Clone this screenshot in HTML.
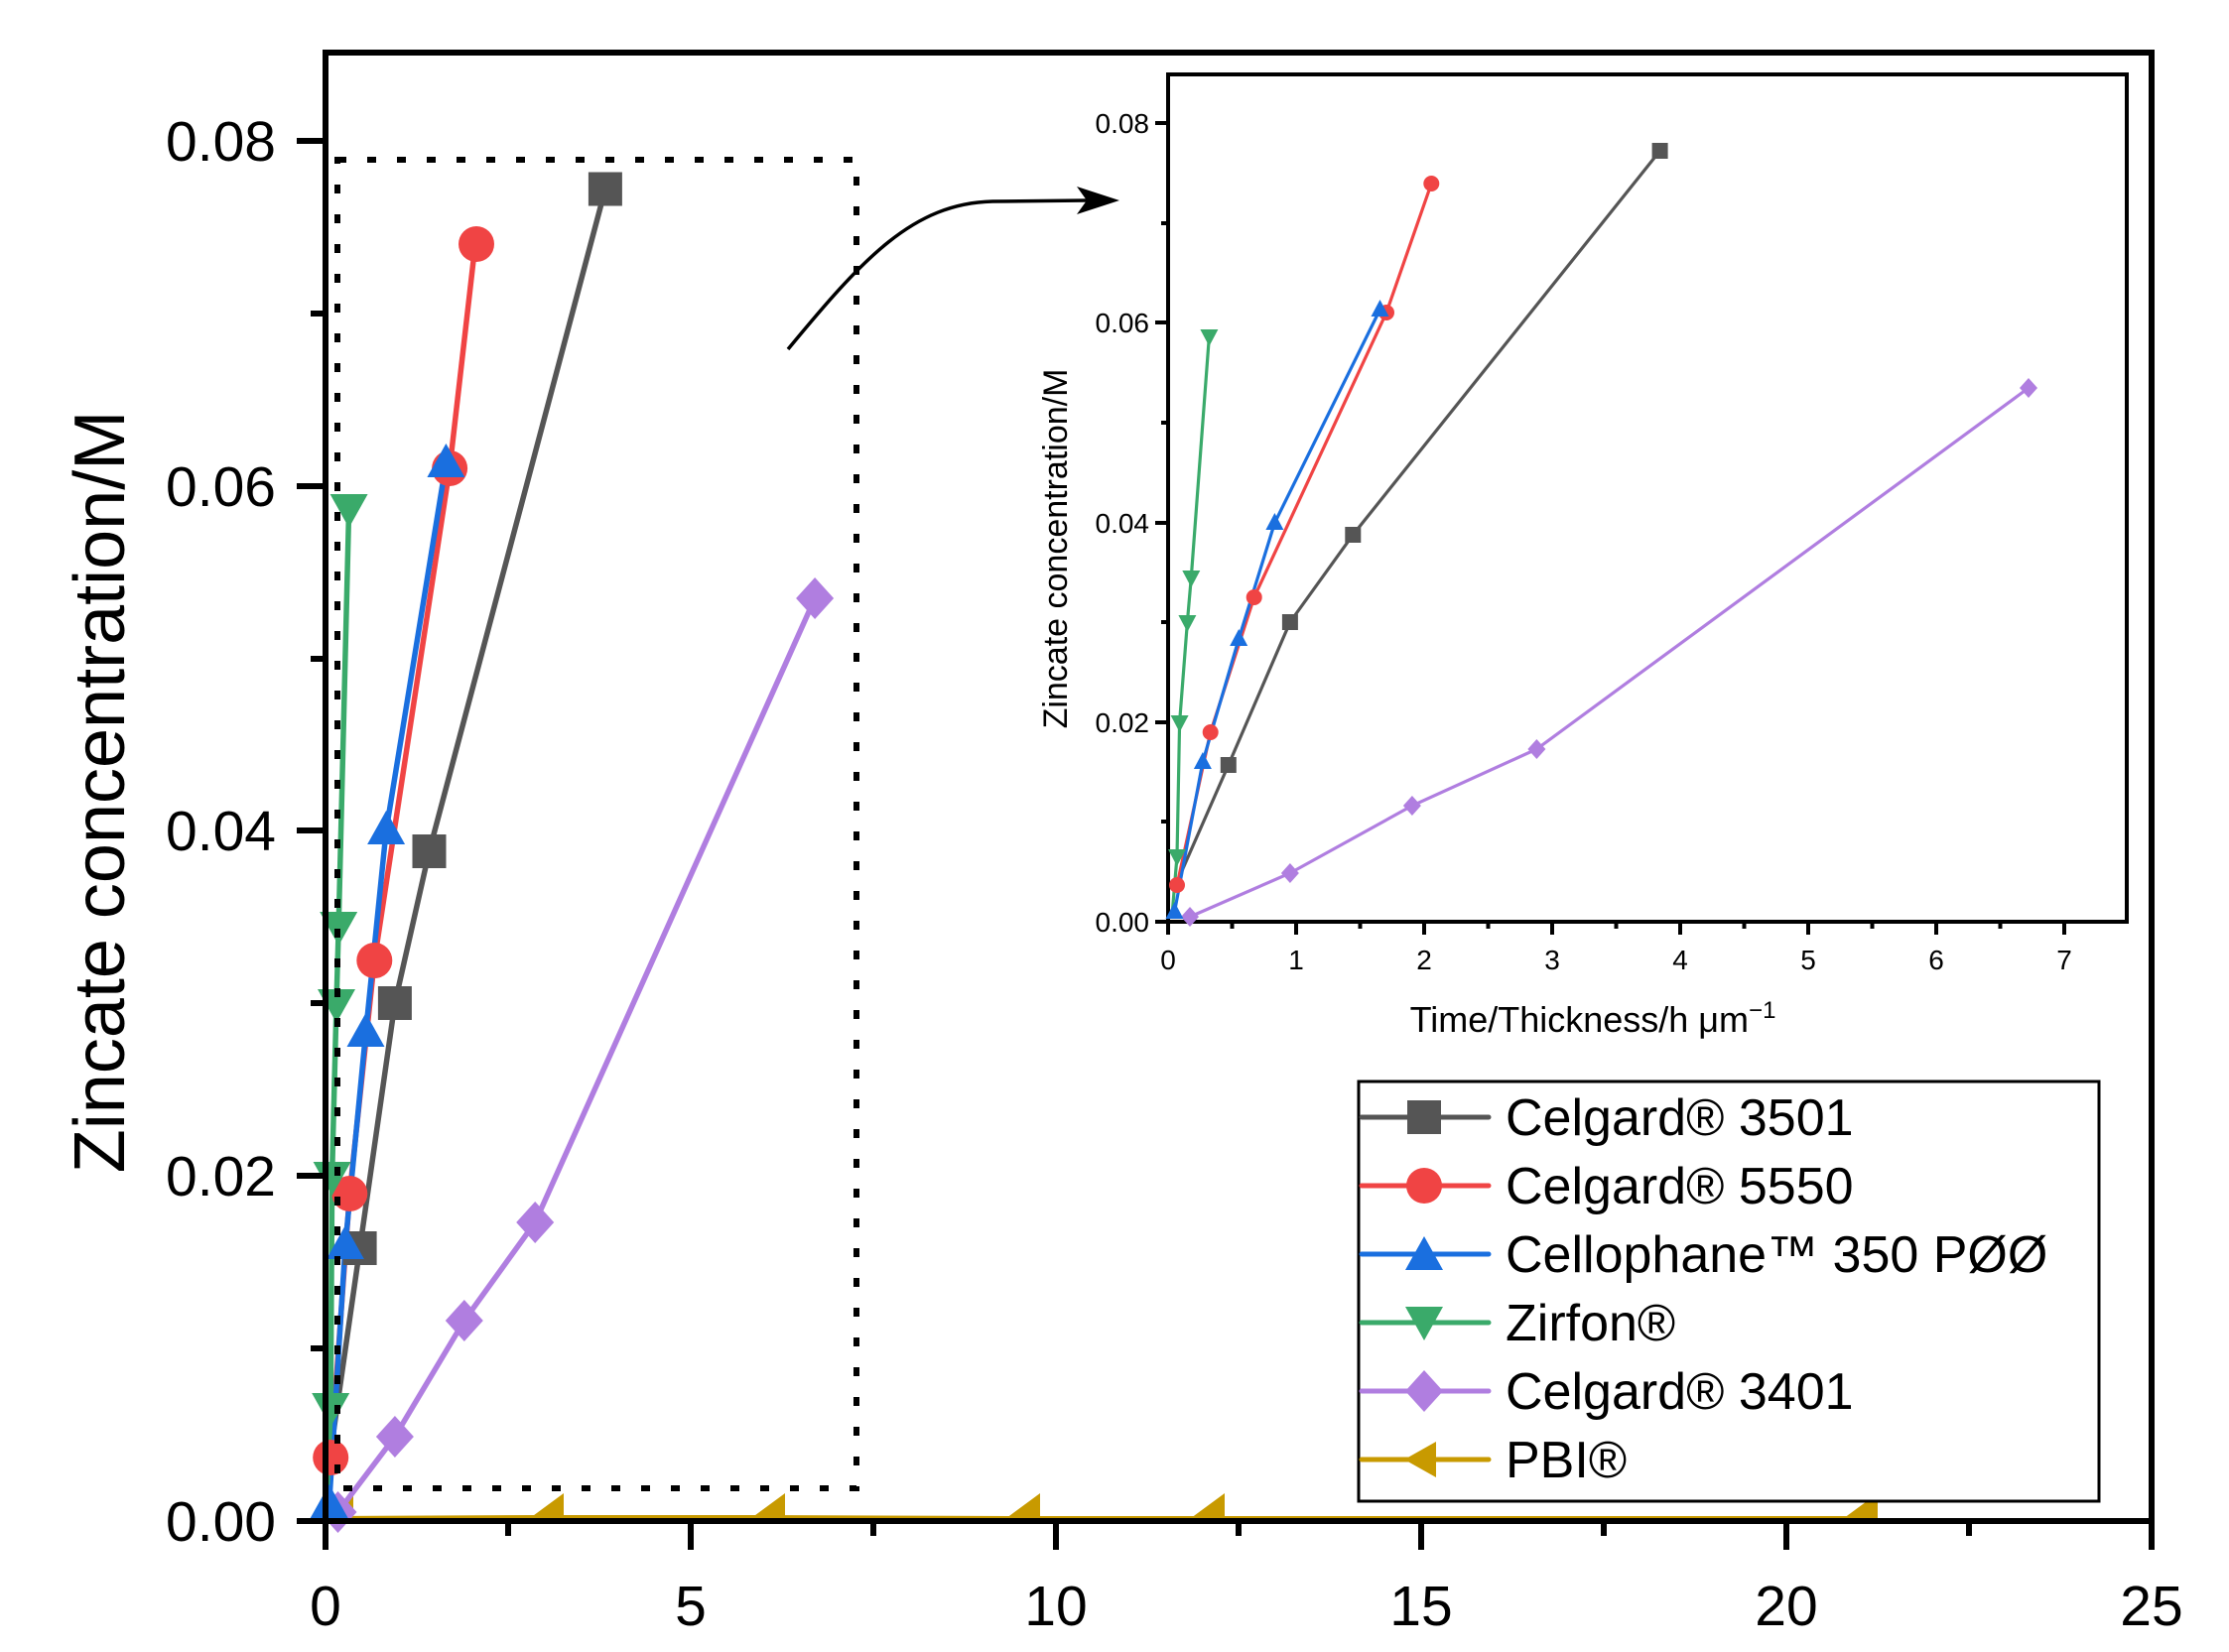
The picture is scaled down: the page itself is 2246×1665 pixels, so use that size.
<!DOCTYPE html>
<html><head><meta charset="utf-8"><style>
html,body{margin:0;padding:0;background:#fff}
svg{display:block}
text{font-family:"Liberation Sans",sans-serif;fill:#000}
</style></head><body>
<svg width="2246" height="1665" viewBox="0 0 2246 1665" xmlns="http://www.w3.org/2000/svg">
<defs>
<rect id="sq" x="-17" y="-17" width="34" height="34" fill="#555"/>
<circle id="ci" r="18" fill="#f04444"/>
<polygon id="tu" points="0,-20 19,14 -19,14" fill="#1a6fdf"/>
<polygon id="td" points="0,20 19,-14 -19,-14" fill="#3aaa6a"/>
<polygon id="di" points="0,-21 19,0 0,21 -19,0" fill="#b07ee0"/>
<polygon id="tl" points="-18,0 14,-18 14,18" fill="#c89a00"/>
<polygon id="tlb" points="-22,0 16,-28 16,28" fill="#c89a00"/>
<rect id="sqs" x="-8" y="-8" width="16" height="16" fill="#555"/>
<circle id="cis" r="8" fill="#f04444"/>
<polygon id="tus" points="0,-10 9,7 -9,7" fill="#1a6fdf"/>
<polygon id="tds" points="0,10 9,-7 -9,-7" fill="#3aaa6a"/>
<polygon id="dis" points="0,-10 9,0 0,10 -9,0" fill="#b07ee0"/>
<clipPath id="above"><rect x="0" y="0" width="2246" height="1532"/></clipPath>
</defs>

<!-- main series -->
<g clip-path="url(#above)">
<polyline fill="none" stroke="#c89a00" stroke-width="6" points="331,1531 544,1530 767,1530 1024,1531 1210,1531 1868,1531"/>
<use href="#tlb" x="340" y="1533"/><use href="#tlb" x="552" y="1533"/><use href="#tlb" x="775" y="1533"/><use href="#tlb" x="1032" y="1533"/><use href="#tlb" x="1218" y="1533"/><use href="#tlb" x="1876" y="1533"/>
</g>
<g fill="none" stroke-width="5.5" stroke-linejoin="round">
<polyline stroke="#b07ee0" points="340.5,1524 397.9,1448 467.8,1331 539.2,1232 821.1,603"/>
<polyline stroke="#555" points="328,1533 333.2,1463 362.6,1258 397.9,1011 432.5,858 609.9,190.5"/>
<polyline stroke="#f04444" points="328,1533 333.2,1469 352.3,1203 377.3,968 453.1,472 478.9,246"/>
<polyline stroke="#1a6fdf" points="328,1533 331.7,1516 347.9,1255 368.5,1041 389.1,837 449.4,467"/>
<polyline stroke="#3aaa6a" points="328,1533 333.2,1418 334.6,1185 339,1011 341.2,933 351.6,512"/>
</g>
<g>
<use href="#di" x="340.5" y="1524"/><use href="#di" x="397.9" y="1448"/><use href="#di" x="467.8" y="1331"/><use href="#di" x="539.2" y="1232"/><use href="#di" x="821.1" y="603"/>
<use href="#sq" x="362.6" y="1258"/><use href="#sq" x="397.9" y="1011"/><use href="#sq" x="432.5" y="858"/><use href="#sq" x="609.9" y="190.5"/>
<use href="#ci" x="333.2" y="1469"/><use href="#ci" x="352.3" y="1203"/><use href="#ci" x="377.3" y="968"/><use href="#ci" x="453.1" y="472"/><use href="#ci" x="480" y="246"/>
<use href="#tu" x="331.7" y="1516"/><use href="#tu" x="347.9" y="1255"/><use href="#tu" x="368.5" y="1041"/><use href="#tu" x="389.1" y="837"/><use href="#tu" x="449.4" y="467"/>
<use href="#td" x="333.2" y="1418"/><use href="#td" x="334.6" y="1185"/><use href="#td" x="339" y="1011"/><use href="#td" x="341.2" y="933"/><use href="#td" x="351.6" y="512"/>
</g>

<!-- dotted zoom box -->
<rect x="340" y="161" width="523" height="1339" fill="none" stroke="#000" stroke-width="6" stroke-dasharray="9 21"/>
<!-- arrow -->
<path d="M794,352 C870,260 920,205 1000,203 L1095,202" fill="none" stroke="#000" stroke-width="3.5"/>
<polygon points="1128,202 1085,188 1095,202 1085,216" fill="#000"/>

<!-- main frame -->
<rect x="328" y="53" width="1840" height="1480" fill="none" stroke="#000" stroke-width="6"/>
<g stroke="#000" stroke-width="6">
<line x1="328" y1="1533" x2="328" y2="1562"/><line x1="696" y1="1533" x2="696" y2="1562"/><line x1="1064" y1="1533" x2="1064" y2="1562"/><line x1="1432" y1="1533" x2="1432" y2="1562"/><line x1="1800" y1="1533" x2="1800" y2="1562"/><line x1="2168" y1="1533" x2="2168" y2="1562"/>
<line x1="512" y1="1533" x2="512" y2="1548"/><line x1="880" y1="1533" x2="880" y2="1548"/><line x1="1248" y1="1533" x2="1248" y2="1548"/><line x1="1616" y1="1533" x2="1616" y2="1548"/><line x1="1984" y1="1533" x2="1984" y2="1548"/>
<line x1="299" y1="1533" x2="328" y2="1533"/><line x1="299" y1="1185" x2="328" y2="1185"/><line x1="299" y1="837" x2="328" y2="837"/><line x1="299" y1="490" x2="328" y2="490"/><line x1="299" y1="142" x2="328" y2="142"/>
<line x1="313" y1="1359" x2="328" y2="1359"/><line x1="313" y1="1011" x2="328" y2="1011"/><line x1="313" y1="664" x2="328" y2="664"/><line x1="313" y1="316" x2="328" y2="316"/>
</g>
<g font-size="57" text-anchor="middle">
<text x="328" y="1638">0</text><text x="696" y="1638">5</text><text x="1064" y="1638">10</text><text x="1432" y="1638">15</text><text x="1800" y="1638">20</text><text x="2168" y="1638">25</text>
</g>
<g font-size="57" text-anchor="end">
<text x="278" y="1553">0.00</text><text x="278" y="1205">0.02</text><text x="278" y="857">0.04</text><text x="278" y="510">0.06</text><text x="278" y="162">0.08</text>
</g>
<text transform="translate(125,798) rotate(-90)" font-size="72" text-anchor="middle">Zincate concentration/M</text>

<!-- inset -->
<rect x="1177" y="75" width="966" height="854" fill="#fff" stroke="#000" stroke-width="4"/>
<g transform="translate(-5,0)">
<g fill="none" stroke-width="3.2">
<polyline stroke="#b07ee0" points="1204,924 1304.9,880 1427.9,812 1553.4,755 2049,391"/>
<polyline stroke="#555" points="1191,889 1242.8,771 1304.9,627 1368.3,539 1677.6,152"/>
<polyline stroke="#f04444" points="1191,892 1224.7,738 1268.7,602 1402,315 1447.3,185"/>
<polyline stroke="#1a6fdf" points="1188.5,919 1216.9,768 1253.2,644 1289.4,527 1395.5,312"/>
<polyline stroke="#3aaa6a" points="1185.9,924 1191,863 1193.6,728 1201.4,627 1205.3,582 1223.4,339"/>
</g>
<use href="#dis" x="1204" y="924"/><use href="#dis" x="1304.9" y="880"/><use href="#dis" x="1427.9" y="812"/><use href="#dis" x="1553.4" y="755"/><use href="#dis" x="2049" y="391"/>
<use href="#sqs" x="1242.8" y="771"/><use href="#sqs" x="1304.9" y="627"/><use href="#sqs" x="1368.3" y="539"/><use href="#sqs" x="1677.6" y="152"/>
<use href="#cis" x="1191" y="892"/><use href="#cis" x="1224.7" y="738"/><use href="#cis" x="1268.7" y="602"/><use href="#cis" x="1402" y="315"/><use href="#cis" x="1447.3" y="185"/>
<use href="#tus" x="1188.5" y="919"/><use href="#tus" x="1216.9" y="768"/><use href="#tus" x="1253.2" y="644"/><use href="#tus" x="1289.4" y="527"/><use href="#tus" x="1395.5" y="312"/>
<use href="#tds" x="1191" y="863"/><use href="#tds" x="1193.6" y="728"/><use href="#tds" x="1201.4" y="627"/><use href="#tds" x="1205.3" y="582"/><use href="#tds" x="1223.4" y="339"/>
</g>
<g stroke="#000" stroke-width="4">
<line x1="1177" y1="929" x2="1177" y2="942"/><line x1="1306" y1="929" x2="1306" y2="942"/><line x1="1435" y1="929" x2="1435" y2="942"/><line x1="1564" y1="929" x2="1564" y2="942"/><line x1="1693" y1="929" x2="1693" y2="942"/><line x1="1822" y1="929" x2="1822" y2="942"/><line x1="1951" y1="929" x2="1951" y2="942"/><line x1="2080" y1="929" x2="2080" y2="942"/>
<line x1="1241.5" y1="929" x2="1241.5" y2="936"/><line x1="1370.5" y1="929" x2="1370.5" y2="936"/><line x1="1499.5" y1="929" x2="1499.5" y2="936"/><line x1="1628.5" y1="929" x2="1628.5" y2="936"/><line x1="1757.5" y1="929" x2="1757.5" y2="936"/><line x1="1886.5" y1="929" x2="1886.5" y2="936"/><line x1="2015.5" y1="929" x2="2015.5" y2="936"/>
<line x1="1164" y1="929" x2="1177" y2="929"/><line x1="1164" y1="728" x2="1177" y2="728"/><line x1="1164" y1="527" x2="1177" y2="527"/><line x1="1164" y1="325" x2="1177" y2="325"/><line x1="1164" y1="124" x2="1177" y2="124"/>
<line x1="1170" y1="828" x2="1177" y2="828"/><line x1="1170" y1="627" x2="1177" y2="627"/><line x1="1170" y1="426" x2="1177" y2="426"/><line x1="1170" y1="225" x2="1177" y2="225"/>
</g>
<g font-size="28" text-anchor="middle">
<text x="1177" y="977">0</text><text x="1306" y="977">1</text><text x="1435" y="977">2</text><text x="1564" y="977">3</text><text x="1693" y="977">4</text><text x="1822" y="977">5</text><text x="1951" y="977">6</text><text x="2080" y="977">7</text>
</g>
<g font-size="28" text-anchor="end">
<text x="1158" y="939">0.00</text><text x="1158" y="738">0.02</text><text x="1158" y="537">0.04</text><text x="1158" y="335">0.06</text><text x="1158" y="134">0.08</text>
</g>
<text x="1605" y="1040" font-size="36" text-anchor="middle">Time/Thickness/h μm<tspan font-size="24" dy="-14">−1</tspan></text>
<text transform="translate(1075,553) rotate(-90)" font-size="34" text-anchor="middle">Zincate concentration/M</text>

<!-- legend -->
<rect x="1369" y="1090" width="746" height="423" fill="#fff" stroke="#000" stroke-width="3"/>
<g stroke-width="5" stroke-linecap="round">
<line x1="1372" y1="1126" x2="1500" y2="1126" stroke="#555"/>
<line x1="1372" y1="1195" x2="1500" y2="1195" stroke="#f04444"/>
<line x1="1372" y1="1264" x2="1500" y2="1264" stroke="#1a6fdf"/>
<line x1="1372" y1="1333" x2="1500" y2="1333" stroke="#3aaa6a"/>
<line x1="1372" y1="1402" x2="1500" y2="1402" stroke="#b07ee0"/>
<line x1="1372" y1="1471" x2="1500" y2="1471" stroke="#c89a00"/>
</g>
<use href="#sq" x="1435" y="1126"/><use href="#ci" x="1435" y="1195"/><use href="#tu" x="1435" y="1266"/><use href="#td" x="1435" y="1331"/><use href="#di" x="1435" y="1402"/><use href="#tl" x="1433" y="1471"/>
<g font-size="52">
<text x="1517" y="1144">Celgard® 3501</text>
<text x="1517" y="1213">Celgard® 5550</text>
<text x="1517" y="1282">Cellophane™ 350 PØØ</text>
<text x="1517" y="1351">Zirfon®</text>
<text x="1517" y="1420">Celgard® 3401</text>
<text x="1517" y="1489">PBI®</text>
</g>
</svg>
</body></html>
